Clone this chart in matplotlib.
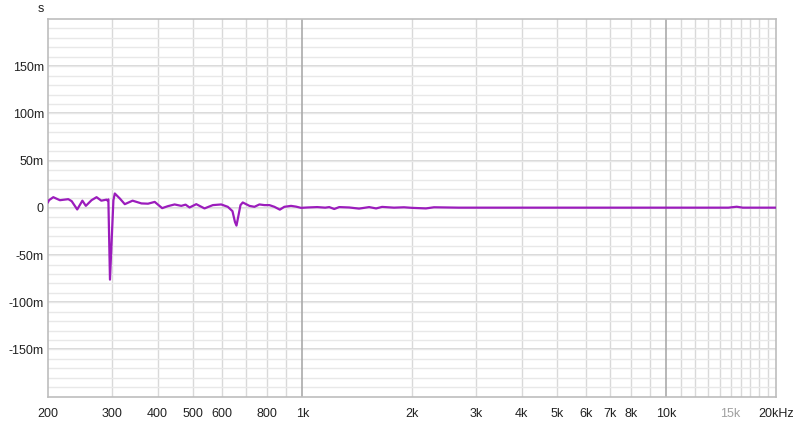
import matplotlib
matplotlib.use("Agg")
import matplotlib.pyplot as plt
from matplotlib.ticker import FixedLocator, NullFormatter

plt.rcParams['font.family'] = ['Liberation Sans', 'DejaVu Sans']

# Group delay curve (frequency in Hz, value in ms)
freq_hz = [200, 201.3, 206.8, 215.6, 227.4, 232.3, 240.6, 248.6, 254.1, 263.4,
           271.9, 280.2, 289.5, 291.5, 293.0, 296.0, 299.5, 302.5, 305.2, 315.0,
           325.1, 341.5, 361.1, 376.5, 392.8, 411.8, 427.1, 445.5, 464.7, 477.5,
           489.7, 510.9, 538.3, 567.4, 598.2, 623.7, 642.4, 652.7, 658.9, 665.1,
           675.8, 685.6, 715.2, 738.1, 761.8, 786.2, 811.4, 837.4, 866.9, 891.8,
           930.3, 960.1, 991.0, 1033, 1098, 1155, 1185, 1223, 1262, 1344,
           1431, 1525, 1594, 1655, 1785, 1901, 2000, 2184, 2298, 2691,
           5000, 10000, 14800, 15600, 16200, 20000]
delay_ms = [6.0, 8.1, 11.3, 8.1, 9.2, 7.1, -1.7, 7.6, 2.1, 8.1,
            11.3, 7.6, 8.7, 7.6, 9.0, -76.0, -30.0, 8.0, 15.2, 9.9,
            3.9, 7.6, 4.7, 4.4, 6.3, -0.3, 1.8, 3.6, 2.1, 3.4,
            0.4, 3.9, -0.6, 2.9, 3.6, 1.1, -3.5, -15.0, -18.8, -10.9,
            2.9, 5.7, 2.1, 1.1, 3.6, 2.9, 2.9, 1.1, -1.9, 1.1,
            2.1, 1.3, 0.0, 0.4, 0.8, 0.2, 0.8, -1.2, 0.8, 0.4,
            -0.8, 0.8, -0.6, 1.0, 0.2, 0.6, 0.0, -0.6, 0.6, 0.2,
            0.2, 0.2, 0.2, 1.2, 0.2, 0.2]

x_tick_vals = [200, 300, 400, 500, 600, 800, 1000, 2000, 3000, 4000, 5000,
               6000, 7000, 8000, 10000, 15000, 20000]
x_tick_labels = ['200', '300', '400', '500', '600', '800', '1k', '2k', '3k', '4k',
                 '5k', '6k', '7k', '8k', '10k', '15k', '20kHz']
x_grid_vals = ([300, 400, 500, 600, 700, 800, 900] +
               [2000, 3000, 4000, 5000, 6000, 7000, 8000, 9000] +
               [11000, 12000, 13000, 14000, 15000, 16000, 17000, 18000, 19000])
x_major_grid = [1000, 10000]
y_tick_vals = [-150, -100, -50, 0, 50, 100, 150]
y_tick_labels = ['-150m', '-100m', '-50m', '0', '50m', '100m', '150m']
y_minor_vals = list(range(-190, 200, 10))

fig = plt.figure(figsize=(8.0, 4.22), dpi=100)
ax = fig.add_axes([48/800, 1 - 396.7/422, (776-48)/800, (396.7-19)/422])

ax.set_xscale('log')
ax.set_xlim(200, 20000)
ax.set_ylim(-200, 200)

ax.xaxis.remove_overlapping_locs = False
ax.yaxis.remove_overlapping_locs = False
ax.xaxis.set_major_locator(FixedLocator(x_tick_vals))
ax.set_xticklabels(x_tick_labels)
ax.xaxis.set_minor_locator(FixedLocator(x_grid_vals))
ax.xaxis.set_minor_formatter(NullFormatter())
ax.yaxis.set_major_locator(FixedLocator(y_tick_vals))
ax.set_yticklabels(y_tick_labels)
ax.yaxis.set_minor_locator(FixedLocator(y_minor_vals))
ax.yaxis.set_minor_formatter(NullFormatter())

ax.grid(which='minor', axis='x', color='#d9d9d9', linewidth=1.0)
ax.grid(which='minor', axis='y', color='#e8e8e8', linewidth=1.0)
ax.grid(which='major', axis='y', color='#d2d2d2', linewidth=1.2)
ax.grid(which='major', axis='x', visible=False)
for xv in x_major_grid:
    ax.axvline(xv, color='#aaaaaa', linewidth=1.2, zorder=1)
ax.set_axisbelow(True)

ax.tick_params(which='both', length=0)
ax.tick_params(axis='x', pad=8, labelsize=9, colors='#222222')
ax.tick_params(axis='y', pad=3, labelsize=9, colors='#222222')
for lbl in ax.get_xticklabels():
    if lbl.get_text() == '15k':
        lbl.set_color('#a0a0a0')

for sp in ax.spines.values():
    sp.set_color('#bdbdbd')
    sp.set_linewidth(1.2)

ax.plot(freq_hz, delay_ms, color='#9b1cbc', linewidth=1.6, zorder=3,
        solid_joinstyle='round')

fig.text(41/800, 1 - 9/422, 's', ha='center', va='center', fontsize=9, color='#222222')

fig.savefig('out.png', dpi=100, facecolor='white')
